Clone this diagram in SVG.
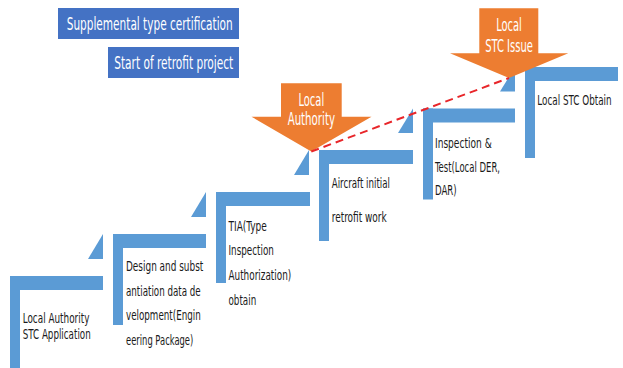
<svg xmlns="http://www.w3.org/2000/svg" width="623" height="368" viewBox="0 0 623 368">
<defs>
<style>
.bar{fill:#5B9BD5}
.tri{fill:#5B9BD5}
.t{font-family:"Liberation Sans Narrow","DejaVu Sans Condensed","Liberation Sans",Arial,sans-serif;font-size:13.5px;fill:#1a1a1a}
.w{font-family:"Liberation Sans Narrow","DejaVu Sans Condensed","Liberation Sans",Arial,sans-serif;font-size:17px;fill:#ffffff}
.box{fill:#4472C4}
.arrow{fill:#ED7D31}
.dash{stroke:#E8262A;stroke-width:2;stroke-dasharray:8,5;fill:none}
</style>
</defs>
<rect width="623" height="368" fill="#ffffff"/>

<g id="box-supplemental">
<rect class="box" x="58" y="8" width="181" height="31"/>
<text class="w" x="149.7" y="30" text-anchor="middle" textLength="166" lengthAdjust="spacingAndGlyphs">Supplemental type certification</text>
</g>
<g id="box-start">
<rect class="box" x="108" y="47" width="131" height="31"/>
<text class="w" x="173.7" y="68.5" text-anchor="middle" textLength="119" lengthAdjust="spacingAndGlyphs">Start of retrofit project</text>
</g>

<g id="step1">
<rect class="bar" x="10" y="276" width="93" height="14"/>
<rect class="bar" x="10" y="276" width="10" height="92"/>
<text class="t" x="22.7" y="323.3" textLength="66.7" lengthAdjust="spacingAndGlyphs">Local Authority</text>
<text class="t" x="22.7" y="338.5" textLength="68" lengthAdjust="spacingAndGlyphs">STC Application</text>
</g>

<g id="step2">
<polygon class="tri" points="88,259 103,259 103,234"/>
<rect class="bar" x="113" y="234" width="93" height="14"/>
<rect class="bar" x="113" y="234" width="10" height="91"/>
<text class="t" x="126" y="271" textLength="77.3" lengthAdjust="spacingAndGlyphs">Design and subst</text>
<text class="t" x="126" y="295.5" textLength="74.7" lengthAdjust="spacingAndGlyphs">antiation data de</text>
<text class="t" x="126" y="320" textLength="74.7" lengthAdjust="spacingAndGlyphs">velopment(Engin</text>
<text class="t" x="126" y="344.5" textLength="67.3" lengthAdjust="spacingAndGlyphs">eering Package)</text>
</g>

<g id="step3">
<polygon class="tri" points="191,217 206,217 206,192"/>
<rect class="bar" x="216" y="192" width="94" height="14"/>
<rect class="bar" x="216" y="192" width="10" height="91"/>
<text class="t" x="228.5" y="230.5" textLength="38.3" lengthAdjust="spacingAndGlyphs">TIA(Type</text>
<text class="t" x="228.5" y="255" textLength="45.3" lengthAdjust="spacingAndGlyphs">Inspection</text>
<text class="t" x="228.5" y="279.5" textLength="62.7" lengthAdjust="spacingAndGlyphs">Authorization)</text>
<text class="t" x="228.5" y="305" textLength="27.7" lengthAdjust="spacingAndGlyphs">obtain</text>
</g>

<g id="step4">
<polygon class="tri" points="294,175 309,175 309,150"/>
<rect class="bar" x="319" y="150" width="94" height="14"/>
<rect class="bar" x="319" y="150" width="10" height="91"/>
<text class="t" x="331.7" y="187.5" textLength="58.3" lengthAdjust="spacingAndGlyphs">Aircraft initial</text>
<text class="t" x="331.7" y="221.5" textLength="55" lengthAdjust="spacingAndGlyphs">retrofit work</text>
</g>

<g id="step5">
<polygon class="tri" points="398,133 413,133 413,108.5"/>
<rect class="bar" x="423" y="108.5" width="92" height="14"/>
<rect class="bar" x="423" y="108.5" width="10" height="91"/>
<text class="t" x="435" y="147.5" textLength="56.7" lengthAdjust="spacingAndGlyphs">Inspection &amp;</text>
<text class="t" x="435" y="171.5" textLength="65" lengthAdjust="spacingAndGlyphs">Test(Local DER,</text>
<text class="t" x="435" y="194.5" textLength="21.7" lengthAdjust="spacingAndGlyphs">DAR)</text>
</g>

<g id="step6">
<polygon class="tri" points="500,91.5 515,91.5 515,67"/>
<rect class="bar" x="525" y="67" width="93" height="14"/>
<rect class="bar" x="525" y="67" width="10" height="91"/>
<text class="t" transform="translate(537.3 104.5) scale(0.8 1)" x="0" y="0" textLength="92.9" lengthAdjust="spacingAndGlyphs">Local STC Obtain</text>
</g>

<g id="arrow-local-authority">
<polygon class="arrow" points="281,83.3 341.7,83.3 341.7,116.7 371.5,116.7 311.3,151.5 251.5,116.7 281,116.7"/>
<text class="w" x="311.3" y="106" text-anchor="middle" textLength="25.7" lengthAdjust="spacingAndGlyphs">Local</text>
<text class="w" x="311.3" y="124.5" text-anchor="middle" textLength="47.3" lengthAdjust="spacingAndGlyphs">Authority</text>
</g>

<g id="arrow-local-stc-issue">
<polygon class="arrow" points="479.3,8.3 538.3,8.3 538.3,53.3 568.3,53.3 509,78 450,53.3 479.3,53.3"/>
<text class="w" x="509" y="30.7" text-anchor="middle" textLength="25.7" lengthAdjust="spacingAndGlyphs">Local</text>
<text class="w" x="509" y="52.3" text-anchor="middle" textLength="47.7" lengthAdjust="spacingAndGlyphs">STC Issue</text>
</g>

<g id="connectors">
<line class="dash" x1="311.3" y1="151.5" x2="509" y2="78"/>
</g>
</svg>
